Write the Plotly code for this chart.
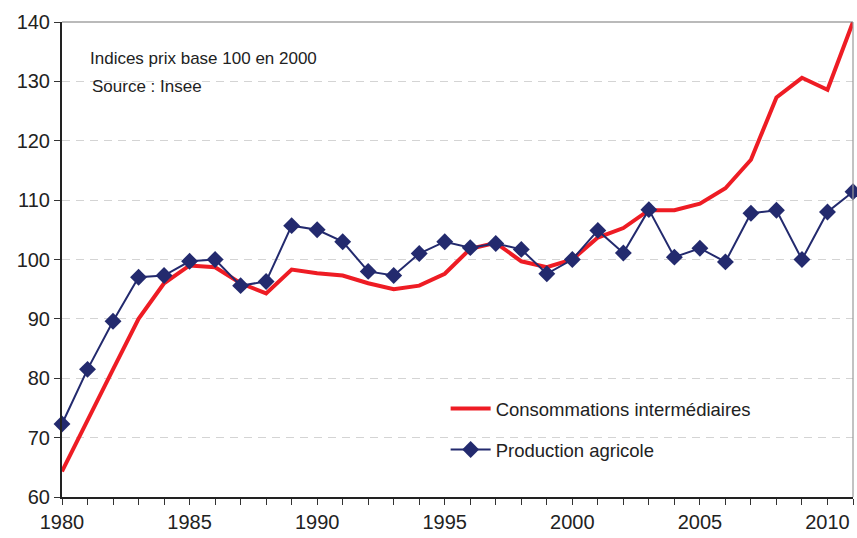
import plotly.graph_objects as go

years = list(range(1980, 2012))
consommations = [64.3, 73.0, 81.5, 90.0, 96.0, 99.0, 98.7, 96.0, 94.3, 98.3,
                 97.7, 97.3, 96.0, 95.0, 95.6, 97.6, 101.8, 102.8, 99.7, 98.7,
                 100.0, 103.7, 105.3, 108.3, 108.3, 109.4, 112.0, 116.8, 127.3, 130.6,
                 128.6, 140.0]
production = [72.3, 81.5, 89.6, 97.0, 97.3, 99.7, 100.0, 95.6, 96.3, 105.7,
              105.0, 103.0, 98.0, 97.3, 101.0, 103.0, 102.0, 102.7, 101.7, 97.6,
              100.0, 104.9, 101.1, 108.4, 100.4, 101.9, 99.6, 107.8, 108.3, 100.0,
              108.0, 111.4]
x_ticktext = [str(y) if y % 5 == 0 else "" for y in years]
y_ticks = [60, 70, 80, 90, 100, 110, 120, 130, 140]

FONT = "Liberation Sans, Arial, sans-serif"

fig = go.Figure()
fig.add_trace(go.Scatter(
    x=years, y=consommations, mode="lines", name="Consommations intermédiaires",
    line=dict(color="#ee1c24", width=4), cliponaxis=False, legendgroup="a"))
fig.add_trace(go.Scatter(
    x=years, y=production, mode="lines+markers", name="Production agricole",
    line=dict(color="#232a6e", width=2),
    marker=dict(symbol="diamond", size=13, color="#232a6e"),
    cliponaxis=False, legendgroup="b"))

fig.update_layout(
    width=857, height=538,
    margin=dict(l=62, r=4, t=22, b=41),
    paper_bgcolor="white", plot_bgcolor="white",
    font=dict(family=FONT, color="#222222", size=20),
    showlegend=True,
    legend=dict(x=0.485, y=0.2255, xanchor="left", yanchor="top",
                bgcolor="rgba(0,0,0,0)", font=dict(size=18.5, family=FONT),
                tracegroupgap=14, itemwidth=40),
    xaxis=dict(range=[1980, 2011], tickvals=years, ticktext=x_ticktext,
               ticks="outside", ticklen=6, tickcolor="#333", showgrid=False,
               showline=True, linecolor="#222", linewidth=2, zeroline=False,
               tickfont=dict(size=20)),
    yaxis=dict(range=[60, 140], tickvals=y_ticks, ticks="outside", ticklen=6,
               tickcolor="#333", showline=True, linecolor="#222", linewidth=2,
               showgrid=True, gridcolor="#d4d4d4", griddash="8px,6px", gridwidth=1.2,
               zeroline=False, tickfont=dict(size=20)),
    shapes=[
        dict(type="line", xref="paper", yref="paper", x0=0, x1=1, y0=1, y1=1,
             line=dict(color="#777", width=1.2)),
        dict(type="line", xref="paper", yref="paper", x0=1, x1=1, y0=0, y1=1,
             line=dict(color="#999", width=1.2)),
    ],
    annotations=[
        dict(xref="paper", yref="paper", x=0.033, y=0.924, xanchor="left", yanchor="middle",
             text="Indices prix base 100 en 2000", showarrow=False,
             font=dict(size=17, family=FONT, color="#222")),
        dict(xref="paper", yref="paper", x=0.035, y=0.865, xanchor="left", yanchor="middle",
             text="Source : Insee", showarrow=False,
             font=dict(size=17, family=FONT, color="#222")),
    ],
)

fig.write_html("out.html", config={"displayModeBar": False},
               post_script="document.body.style.margin='0';document.body.style.overflow='hidden';")
